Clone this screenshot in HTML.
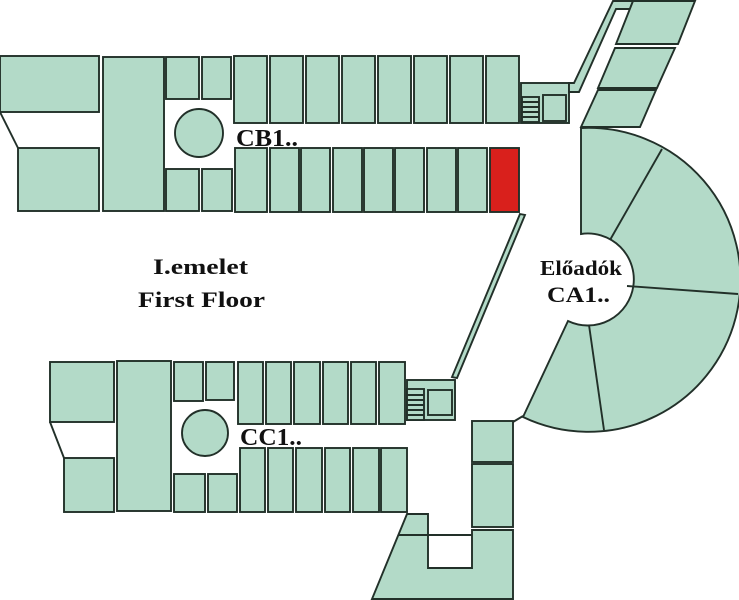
<!DOCTYPE html>
<html><head><meta charset="utf-8"><style>
html,body{margin:0;padding:0;background:#fff;}
svg{display:block}
text{font-family:"Liberation Serif",serif;font-weight:bold;fill:#111;}
</style></head><body>
<svg width="739" height="600" viewBox="0 0 739 600" xmlns="http://www.w3.org/2000/svg">
<g fill="#b3dac8" stroke="#223029" stroke-width="1.9">
<!-- CB block -->
<rect x="0" y="56" width="99" height="56"/>
<rect x="18" y="148" width="81" height="63"/>
<line x1="0" y1="112" x2="18" y2="148"/>
<rect x="103" y="57" width="61" height="154"/>
<rect x="166" y="57" width="33" height="42"/>
<rect x="202" y="57" width="29" height="42"/>
<circle cx="199" cy="133" r="24"/>
<rect x="166" y="169" width="33" height="42"/>
<rect x="202" y="169" width="30" height="42"/>
<rect x="234" y="56" width="33" height="67"/>
<rect x="270" y="56" width="33" height="67"/>
<rect x="306" y="56" width="33" height="67"/>
<rect x="342" y="56" width="33" height="67"/>
<rect x="378" y="56" width="33" height="67"/>
<rect x="414" y="56" width="33" height="67"/>
<rect x="450" y="56" width="33" height="67"/>
<rect x="486" y="56" width="33" height="67"/>
<rect x="235" y="148" width="32" height="64"/>
<rect x="270" y="148" width="29" height="64"/>
<rect x="301" y="148" width="29" height="64"/>
<rect x="333" y="148" width="29" height="64"/>
<rect x="364" y="148" width="29" height="64"/>
<rect x="395" y="148" width="29" height="64"/>
<rect x="427" y="148" width="29" height="64"/>
<rect x="458" y="148" width="29" height="64"/>
<rect x="490" y="148" width="29" height="64" fill="#d9201c"/>
<rect x="521" y="83" width="48" height="40"/>
<rect x="522" y="97" width="17" height="25"/>
<path d="M522 102H539M522 107H539M522 112H539M522 117H539" fill="none"/>
<rect x="543" y="95" width="23" height="26"/>
<polygon points="569,83 574,83 613,1 633,1 630,9 616,9 579,92 569,92"/>
<polygon points="633,1 695,1 678,44 616,44"/>
<polygon points="615,48 675,48 657,88 598,88"/>
<polygon points="598,90 656,90 640,127 581,127"/>
<!-- fan -->
<path d="M581,128 A152,152 0 1 1 523,417 L568,321 A46,46 0 1 0 581,234 Z"/>
<line x1="610" y1="240" x2="662" y2="149"/>
<line x1="627" y1="286" x2="738" y2="294"/>
<line x1="589" y1="325" x2="604" y2="430"/>
<line x1="523" y1="416" x2="513" y2="422"/>
<!-- diagonal corridor -->
<polygon points="520,214 525,215 457,378 452,377"/>
<!-- CC block -->
<rect x="50" y="362" width="64" height="60"/>
<rect x="64" y="458" width="50" height="54"/>
<line x1="50" y1="422" x2="64" y2="458"/>
<rect x="117" y="361" width="54" height="150"/>
<rect x="174" y="362" width="29" height="39"/>
<rect x="206" y="362" width="28" height="38"/>
<circle cx="205" cy="433" r="23"/>
<rect x="174" y="474" width="31" height="38"/>
<rect x="208" y="474" width="29" height="38"/>
<rect x="238" y="362" width="25" height="62"/>
<rect x="266" y="362" width="25" height="62"/>
<rect x="294" y="362" width="26" height="62"/>
<rect x="323" y="362" width="25" height="62"/>
<rect x="351" y="362" width="25" height="62"/>
<rect x="379" y="362" width="26" height="62"/>
<rect x="240" y="448" width="25" height="64"/>
<rect x="268" y="448" width="25" height="64"/>
<rect x="296" y="448" width="26" height="64"/>
<rect x="325" y="448" width="25" height="64"/>
<rect x="353" y="448" width="26" height="64"/>
<rect x="381" y="448" width="26" height="64"/>
<rect x="407" y="380" width="48" height="40"/>
<rect x="407" y="389" width="17" height="31"/>
<path d="M407 395H424M407 400H424M407 405H424M407 410H424M407 415H424" fill="none"/>
<rect x="428" y="390" width="24" height="25"/>
<!-- bottom right -->
<rect x="472" y="421" width="41" height="41"/>
<rect x="472" y="464" width="41" height="63"/>
<polygon points="407,514 428,514 428,568 472,568 472,530 513,530 513,599 372,599"/>
<line x1="399" y1="535" x2="472" y2="535"/>
</g>
<text x="236" y="146" font-size="24" textLength="62" lengthAdjust="spacingAndGlyphs">CB1..</text>
<text x="240" y="445" font-size="24" textLength="62" lengthAdjust="spacingAndGlyphs">CC1..</text>
<text x="153" y="274" font-size="22" textLength="95" lengthAdjust="spacingAndGlyphs">I.emelet</text>
<text x="138" y="307" font-size="22" textLength="127" lengthAdjust="spacingAndGlyphs">First Floor</text>
<text x="540" y="275" font-size="21" textLength="82" lengthAdjust="spacingAndGlyphs">Előadók</text>
<text x="547" y="302" font-size="22" textLength="63" lengthAdjust="spacingAndGlyphs">CA1..</text>
</svg>
</body></html>
